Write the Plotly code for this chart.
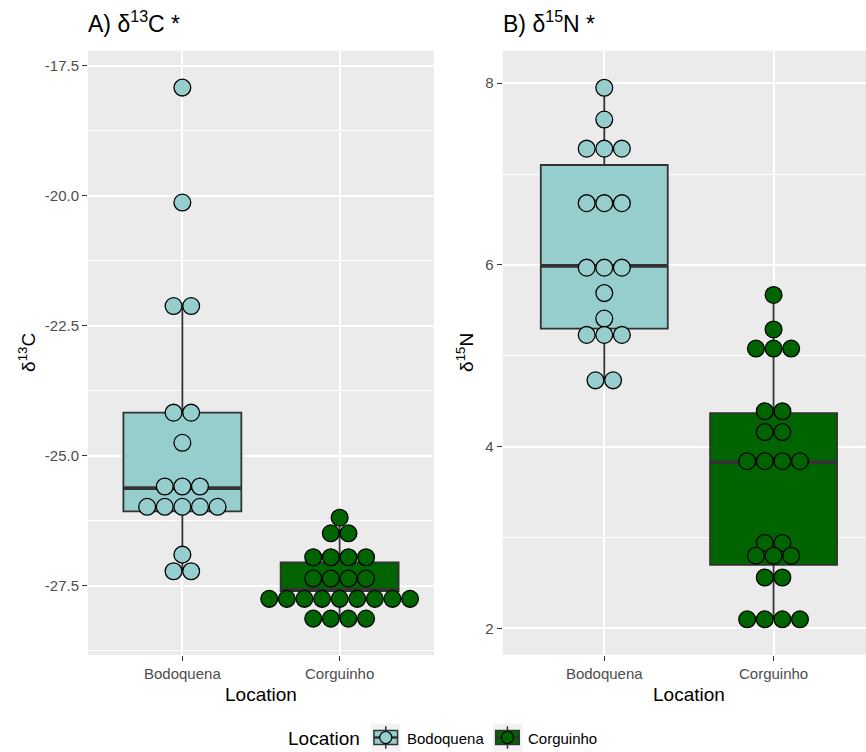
import plotly.graph_objects as go

# ---- data -------------------------------------------------------------
locations = ["Bodoquena", "Corguinho"]
loc_fill = {"Bodoquena": "#96CDCD", "Corguinho": "#006400"}

# binned dot values per location
bodo_d13c = [-17.92, -20.13, -22.12, -22.12, -24.17, -24.17, -24.75,
             -25.59, -25.59, -25.59, -25.98, -25.98, -25.98, -25.98, -25.98,
             -26.90, -27.22, -27.22]
corg_d13c = [-26.19, -26.49, -26.49, -26.95, -26.95, -26.95, -26.95,
             -27.36, -27.36, -27.36, -27.36,
             -27.75, -27.75, -27.75, -27.75, -27.75, -27.75, -27.75, -27.75, -27.75,
             -28.13, -28.13, -28.13, -28.13]
bodo_d15n = [7.95, 7.60, 7.28, 7.28, 7.28, 6.68, 6.68, 6.68, 5.97, 5.97, 5.97,
             5.69, 5.41, 5.23, 5.23, 5.23, 4.73, 4.73]
corg_d15n = [5.67, 5.29, 5.08, 5.08, 5.08, 4.39, 4.39, 4.16, 4.16,
             3.84, 3.84, 3.84, 3.84, 2.94, 2.94, 2.80, 2.80, 2.80,
             2.56, 2.56, 2.10, 2.10, 2.10, 2.10]

# box statistics: lower whisker, q1, median, q3, upper whisker
d13c_stats = {"Bodoquena": [-27.22, -26.07, -25.62, -24.17, -22.12],
              "Corguinho": [-28.13, -27.60, -27.58, -27.05, -26.19]}
d15n_stats = {"Bodoquena": [4.73, 5.30, 5.99, 7.10, 7.95],
              "Corguinho": [2.10, 2.70, 3.83, 4.37, 5.67]}

d13c_ticks = [-27.5, -25.0, -22.5, -20.0, -17.5]
d13c_ticktext = ["-27.5", "-25.0", "-22.5", "-20.0", "-17.5"]
d13c_minor = [-28.75, -26.25, -23.75, -21.25, -18.75]
d15n_ticks = [2, 4, 6, 8]
d15n_ticktext = ["2", "4", "6", "8"]
d15n_minor = [3, 5, 7]

# ---- geometry ---------------------------------------------------------
W, H = 866, 752
FONT = "Liberation Sans, Arial, sans-serif"


def fx(p):
    return p / W


def fy(p):
    return 1 - p / H


panels = {
    "A": dict(dom=[fx(88), fx(434)], xr=[0.4, 2.6], yr=[-28.83, -17.21],
              data={"Bodoquena": bodo_d13c, "Corguinho": corg_d13c},
              stats=d13c_stats, ticks=d13c_ticks, ticktext=d13c_ticktext,
              minor=d13c_minor, xa="x", ya="y"),
    "B": dict(dom=[fx(502.7), 1.0], xr=[0.4, 2.546], yr=[1.707, 8.358],
              data={"Bodoquena": bodo_d15n, "Corguinho": corg_d15n},
              stats=d15n_stats, ticks=d15n_ticks, ticktext=d15n_ticktext,
              minor=d15n_minor, xa="x2", ya="y2"),
}
YDOM = [fy(655), fy(50.7)]
DOT_PX = 17.6
BOX_W = 0.75
EDGE = "#333333"

fig = go.Figure()

for key, p in panels.items():
    ppu = (p["dom"][1] - p["dom"][0]) * W / (p["xr"][1] - p["xr"][0])
    for i, loc in enumerate(locations):
        pos = i + 1
        lo, q1, med, q3, hi = p["stats"][loc]
        fig.add_trace(go.Box(
            x=[pos], q1=[q1], median=[med], q3=[q3], lowerfence=[lo], upperfence=[hi],
            width=BOX_W, whiskerwidth=0, fillcolor=loc_fill[loc],
            line=dict(color=EDGE, width=1.8), boxpoints=False,
            xaxis=p["xa"], yaxis=p["ya"], showlegend=False, hoverinfo="skip"))
        # thicker median bar
        fig.add_trace(go.Scatter(
            x=[pos - BOX_W / 2, pos + BOX_W / 2], y=[med, med], mode="lines",
            line=dict(color=EDGE, width=3.8), xaxis=p["xa"], yaxis=p["ya"],
            showlegend=False, hoverinfo="skip"))
        # centre-stacked dots: each distinct value forms one row
        xs, ys = [], []
        vals = p["data"][loc]
        for v in dict.fromkeys(vals):
            n = vals.count(v)
            for k in range(n):
                xs.append(pos + (k - (n - 1) / 2) * DOT_PX / ppu)
                ys.append(v)
        fig.add_trace(go.Scatter(
            x=xs, y=ys, mode="markers",
            marker=dict(size=16.8, color=loc_fill[loc], line=dict(color="black", width=1.3)),
            xaxis=p["xa"], yaxis=p["ya"], showlegend=False, hoverinfo="skip"))


def xaxis_cfg(p):
    return dict(domain=p["dom"], range=p["xr"], tickvals=[1, 2], ticktext=locations,
                ticks="outside", ticklen=5, tickwidth=1.4, tickcolor=EDGE,
                tickfont=dict(size=15, color="#4D4D4D", family=FONT),
                showgrid=True, gridcolor="white", gridwidth=1.8, zeroline=False,
                showline=False, anchor=p["ya"], fixedrange=True)


def yaxis_cfg(p):
    return dict(domain=YDOM, range=p["yr"], tickvals=p["ticks"], ticktext=p["ticktext"],
                ticks="outside", ticklen=5, tickwidth=1.4, tickcolor=EDGE,
                tickfont=dict(size=15, color="#4D4D4D", family=FONT),
                showgrid=True, gridcolor="white", gridwidth=1.8, zeroline=False,
                showline=False, anchor=p["xa"], fixedrange=True,
                minor=dict(tickmode="array", tickvals=p["minor"], showgrid=True,
                           gridcolor="white", gridwidth=0.9, ticks=""))


pa, pb = panels["A"], panels["B"]
fig.update_layout(
    width=W, height=H, margin=dict(l=0, r=0, t=0, b=0),
    paper_bgcolor="white", plot_bgcolor="#EBEBEB", boxmode="overlay",
    showlegend=False, font=dict(family=FONT, color="black"),
    xaxis=xaxis_cfg(pa), yaxis=yaxis_cfg(pa),
    xaxis2=xaxis_cfg(pb), yaxis2=yaxis_cfg(pb),
)

ann = []


def text(s, x, y, size, xanchor="center", angle=0, color="black"):
    ann.append(dict(text=s, x=fx(x), y=fy(y), xref="paper", yref="paper",
                    xanchor=xanchor, yanchor="middle", showarrow=False, textangle=angle,
                    font=dict(size=size, color=color, family=FONT)))


# panel titles
text("A) δ<sup>13</sup>C *", 86, 22, 23, xanchor="left")
text("B) δ<sup>15</sup>N *", 501, 22, 23, xanchor="left")
# axis titles
text("δ<sup>13</sup>C", 27, 352.9, 19, angle=-90)
text("δ<sup>15</sup>N", 465, 352.9, 19, angle=-90)
text("Location", 261, 694, 19)
text("Location", 689, 694, 19)

# legend
text("Location", 286, 738, 19, xanchor="left")
shapes = []
key_left = {"Bodoquena": 371, "Corguinho": 492.7}
label_left = {"Bodoquena": 405, "Corguinho": 526}
KW, KH, KTOP = 29.5, 28, 723.5
for loc in locations:
    kx = key_left[loc]
    cx = kx + KW / 2
    cy = KTOP + KH / 2
    shapes.append(dict(type="rect", xref="paper", yref="paper",
                       x0=fx(kx), x1=fx(kx + KW), y0=fy(KTOP + KH), y1=fy(KTOP),
                       fillcolor="#F2F2F2", line=dict(width=0), layer="above"))
    shapes.append(dict(type="line", xref="paper", yref="paper",
                       x0=fx(cx), x1=fx(cx), y0=fy(KTOP + 0.1 * KH), y1=fy(KTOP + 0.9 * KH),
                       line=dict(color=EDGE, width=1.5), layer="above"))
    shapes.append(dict(type="rect", xref="paper", yref="paper",
                       x0=fx(kx + 0.1 * KW), x1=fx(kx + 0.9 * KW),
                       y0=fy(KTOP + 0.75 * KH), y1=fy(KTOP + 0.25 * KH),
                       fillcolor=loc_fill[loc], line=dict(color=EDGE, width=1.5), layer="above"))
    shapes.append(dict(type="line", xref="paper", yref="paper",
                       x0=fx(kx + 0.1 * KW), x1=fx(kx + 0.9 * KW), y0=fy(cy), y1=fy(cy),
                       line=dict(color=EDGE, width=2.5), layer="above"))
    r = 6
    shapes.append(dict(type="circle", xref="paper", yref="paper",
                       x0=fx(cx - r), x1=fx(cx + r), y0=fy(cy + r), y1=fy(cy - r),
                       fillcolor=loc_fill[loc], line=dict(color="black", width=1.2), layer="above"))
    text(loc, label_left[loc], 738, 15, xanchor="left")

fig.update_layout(annotations=ann, shapes=shapes)
fig.write_html("out.html")
